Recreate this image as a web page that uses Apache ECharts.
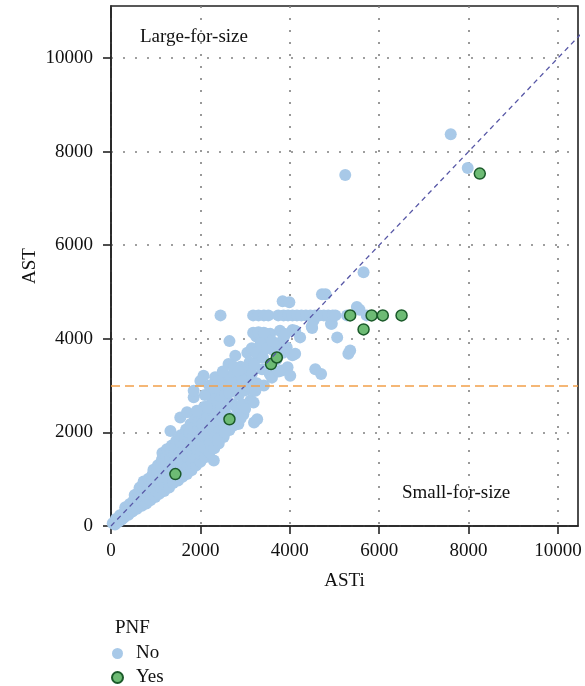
<!DOCTYPE html>
<html>
<head>
<meta charset="utf-8">
<script src="https://cdn.jsdelivr.net/npm/echarts@6/dist/echarts.min.js"></script>
<style>
  html, body { margin: 0; padding: 0; background: #fff; }
  #chart { width: 585px; height: 686px; }
</style>
</head>
<body>
<div id="chart"></div>
<script>
// PNF = No  [ASTi, AST]
var noPoints = [
  [40,60],[90,30],[110,150],[170,90],[200,230],[240,140],[290,180],[300,300],[320,400],[390,240],[400,350],[420,470],
  [480,310],[500,420],[510,550],[530,660],[580,370],[600,490],[610,610],[620,730],[640,820],
  [690,430],[700,550],[700,680],[720,820],[730,950],[790,480],[800,610],[810,740],[820,880],[840,1010],
  [880,550],[900,680],[910,820],[920,960],[930,1100],[950,1200],[990,620],[1000,760],[1010,900],[1020,1040],[1030,1180],[1050,1300],
  [1080,690],[1100,830],[1100,970],[1110,1110],[1120,1260],[1140,1420],[1150,1560],
  [1190,750],[1200,890],[1210,1030],[1220,1180],[1230,1340],[1240,1500],[1250,1640],
  [1300,820],[1290,960],[1310,1120],[1320,1280],[1330,1440],[1340,1600],[1360,1720],
  [1390,920],[1400,1260],[1410,1360],[1420,1520],[1440,1680],[1460,1820],
  [1500,970],[1490,1120],[1520,1290],[1510,1440],[1530,1620],[1550,1800],[1560,1940],
  [1600,1050],[1610,1200],[1620,1380],[1630,1560],[1640,1740],[1660,1920],[1680,2060],
  [1700,1110],[1710,1280],[1720,1460],[1730,1640],[1740,1820],[1760,2000],[1780,2180],
  [1800,1190],[1810,1360],[1820,1540],[1830,1720],[1840,1920],[1860,2120],[1880,2300],
  [1900,1290],[1910,1460],[1920,1640],[1930,1840],[1940,2040],[1960,2240],[1980,2420],
  [2000,1370],[2010,1540],[2020,1740],[2030,1960],[2040,2180],[2060,2400],[2080,2540],
  [2100,1470],[2110,1660],[2120,1880],[2130,2100],[2150,2320],[2170,2560],
  [2200,1570],[2210,1780],[2220,2000],[2230,2240],[2250,2480],[2270,2700],
  [2300,1400],[2310,1660],[2320,1900],[2330,2140],[2350,2400],[2370,2640],[2390,2860],
  [2410,1760],[2420,2020],[2440,2280],[2460,2560],[2480,2800],[2500,3000],
  [2520,1900],[2530,2160],[2550,2440],[2570,2700],[2590,2960],[2600,3150],
  [2650,2050],[2700,2300],[2720,2600],[2740,2900],[2760,3200],[2780,3640],[2630,3460],[2650,3950],
  [2820,2500],[2850,2180],[2860,2800],[2880,3100],[2900,3400],[2930,2600],[2960,2380],[3000,2900],
  [3000,3350],[3050,3700],[3080,3200],[3120,2680],[3150,3800],[3190,2890],[3190,2640],[3200,2210],
  [3230,4100],[3260,3050],[3270,2280],[3300,3600],[3340,3780],[3380,3350],[3420,3000],[3450,3950],
  [3490,4100],[3550,3250],[3560,4110],[3600,3170],[3640,3750],[3700,3900],[3780,4170],[3820,3320],
  [3860,4030],[3930,3820],[3950,3390],[4010,3210],[4060,3650],[4120,3680],[4120,4170],[4230,4030],
  [4500,4230],[4530,4390],[4570,3350],[4700,3250],[4920,4320],[4940,4320],[5060,4030],[5310,3680],[5350,3750],
  [2070,3210],[2000,3100],[2330,3180],[2670,3210],[2890,3180],[2440,2780],[1850,2750],[1850,2890],
  [2220,2820],[2150,2530],[1550,2320],[1700,2430],[1330,2030],[2070,1960],[2480,1960],[1920,2460],
  [3230,2890],[3250,4050],[3450,4060],[3180,4130],[3300,4140],[3420,4130],[4060,4190],[4490,4260],
  [2100,2800],[2200,3000],[2300,2950],[2400,3100],[2500,3300],[2550,2800],[2600,2600],[2650,2850],
  [2700,3050],[2750,3400],[2800,2950],[2850,3300],[2950,3100],[3000,2500],[3050,3000],[3100,3500],
  [3150,3250],[3200,3450],[3250,3700],[3350,3900],[3400,3600],[3500,3800],[3600,3950],[3700,3550],
  [3750,3300],[3850,3700],[3900,4100],[2900,2300],[2750,2150],[2600,2350],[2400,1850],[2550,2000],
  [2450,4500],[3180,4500],[3300,4500],[3420,4500],[3520,4500],[3740,4500],[3860,4500],[3960,4500],
  [4060,4500],[4160,4500],[4260,4500],[4360,4500],[4460,4500],[4560,4500],[4660,4500],[4760,4500],
  [4860,4500],[4960,4500],[5020,4500],[5280,4500],[5720,4500],
  [3840,4800],[3990,4780],[4720,4950],[4800,4950],[5500,4680],[5560,4620],[5650,5420],
  [5240,7500],[7600,8370],[7980,7650]
];
// PNF = Yes
var yesPoints = [
  [1440,1110],[2650,2280],[3580,3460],[3710,3600],[5350,4500],[5830,4500],
  [6080,4500],[6500,4500],[5650,4200],[8250,7530]
];
var identityLine = [[0,0],[11000,11000]];
var cutoffAST = 3000;
var tickValues = [0,2000,4000,6000,8000,10000];

var font = "Liberation Serif";
var chart = echarts.init(document.getElementById("chart"));

var axisCommon = {
  type: "value",
  min: 0,
  interval: 2000,
  axisLine: { show: true, onZero: false, lineStyle: { color: "#222", width: 1.6 } },
  axisTick: { show: true, length: 8, customValues: tickValues, lineStyle: { color: "#222", width: 1.6 } },
  axisLabel: {
    customValues: tickValues, color: "#111", fontFamily: font, fontSize: 19,
    formatter: function (v) { return String(v); }
  },
  splitLine: { show: true, lineStyle: { color: "#808080", width: 1.6, type: [2, 10] } },
  nameLocation: "middle",
  nameMoveOverlap: false,
  nameTextStyle: { color: "#111", fontFamily: font, fontSize: 19 }
};

chart.setOption({
  animation: false,
  grid: { left: 111, top: 6, width: 467, height: 520, show: true, borderColor: "#222", borderWidth: 1.6 },
  xAxis: [
    Object.assign({}, axisCommon, {
      max: 10447, name: "ASTi", nameGap: 46,
      axisLabel: Object.assign({}, axisCommon.axisLabel, { margin: 16 })
    })
  ],
  yAxis: [
    Object.assign({}, axisCommon, {
      max: 11110, name: "AST", nameGap: 71,
      axisLabel: Object.assign({}, axisCommon.axisLabel, { margin: 18 })
    })
  ],
  legend: {
    orient: "vertical",
    left: 111, top: 644, height: 80, padding: 0,
    itemWidth: 11, itemHeight: 11, itemGap: 5,
    icon: "circle",
    data: ["No", "Yes"],
    textStyle: { color: "#111", fontFamily: font, fontSize: 19, padding: [0, 0, 0, 8] }
  },
  graphic: [
    { type: "text", left: 115, top: 619, style: { text: "PNF", fill: "#111", font: "19px '" + font + "'" } },
    { type: "text", left: 140, top: 28, style: { text: "Large-for-size", fill: "#111", font: "19px '" + font + "'" } },
    { type: "text", left: 402, top: 484, style: { text: "Small-for-size", fill: "#111", font: "19px '" + font + "'" } }
  ],
  series: [
    {
      name: "No", type: "scatter", symbolSize: 12,
      itemStyle: { color: "#a8c9e8", opacity: 1 },
      data: noPoints
    },
    {
      type: "line", data: identityLine, symbol: "none", silent: true,
      lineStyle: { color: "#5757a6", width: 1.3, type: [5, 4] },
      markLine: {
        silent: true, symbol: "none", label: { show: false },
        lineStyle: { color: "#f2a04a", width: 1.7, type: [9, 5] },
        data: [{ yAxis: cutoffAST }]
      }
    },
    {
      name: "Yes", type: "scatter", symbolSize: 11,
      itemStyle: { color: "#6dbb74", borderColor: "#1b5a2a", borderWidth: 1.5, opacity: 1 },
      data: yesPoints
    }
  ]
});
</script>
</body>
</html>
